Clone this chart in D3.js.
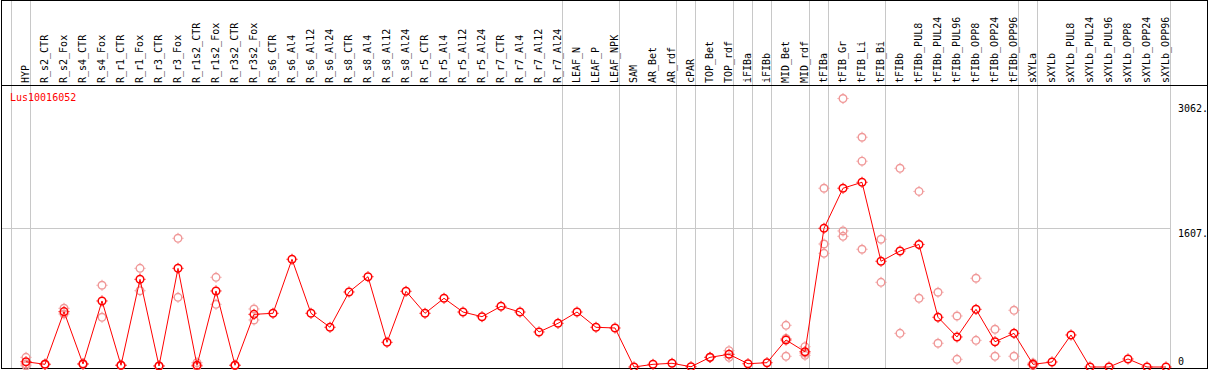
<!DOCTYPE html>
<html>
<head>
<meta charset="utf-8">
<script src="https://cdn.jsdelivr.net/npm/d3@7"></script>
<style>
  body { margin: 0; background: #fff; }
  text { font-family: "DejaVu Sans Mono", monospace; font-size: 10px; }
</style>
</head>
<body>
<div id="chart"></div>
<script>
// sample names along the top
const samples = ["HYP", "R_s2_CTR", "R_s2_Fox", "R_s4_CTR", "R_s4_Fox", "R_r1_CTR", "R_r1_Fox",
  "R_r3_CTR", "R_r3_Fox", "R_r1s2_CTR", "R_r1s2_Fox", "R_r3s2_CTR", "R_r3s2_Fox",
  "R_s6_CTR", "R_s6_Al4", "R_s6_Al12", "R_s6_Al24", "R_s8_CTR", "R_s8_Al4", "R_s8_Al12", "R_s8_Al24",
  "R_r5_CTR", "R_r5_Al4", "R_r5_Al12", "R_r5_Al24", "R_r7_CTR", "R_r7_Al4", "R_r7_Al12", "R_r7_Al24",
  "LEAF_N", "LEAF_P", "LEAF_NPK", "SAM", "AR_Bet", "AR_rdf", "cPAR", "TOP_Bet", "TOP_rdf",
  "iFIBa", "iFIBb", "MID_Bet", "MID_rdf", "tFIBa", "tFIB_Gr", "tFIB_Li", "tFIB_Bi",
  "tFIBb", "tFIBb_PUL8", "tFIBb_PUL24", "tFIBb_PUL96", "tFIBb_OPP8", "tFIBb_OPP24", "tFIBb_OPP96",
  "sXYLa", "sXYLb", "sXYLb_PUL8", "sXYLb_PUL24", "sXYLb_PUL96", "sXYLb_OPP8", "sXYLb_OPP24", "sXYLb_OPP96"];

// mean expression per sample
const means = [61, 31, 641, 35, 765, 20, 1016, 12, 1143, 20, 881, 20, 610,
  622, 1248, 622, 460, 869, 1046, 286, 877,
  622, 796, 637, 583, 703, 637, 406, 506,
  637, 460, 452, 0, 31, 43, 3, 112, 147,
  38, 50, 313, 177, 1607, 2071, 2140, 1225,
  1344, 1420, 576, 348, 668, 293, 390,
  31, 58, 371, 0, 0, 93, 0, 0];

// replicate values per sample (empty when only one)
const replicates = [[112, 35, 15], [35, 25], [680, 614], [40, 30], [947, 576], [22, 18], [1143, 884],
  [14, 10], [1491, 807], [50, 5], [1039, 726], [22, 18], [672, 545],
  [], [], [], [], [], [], [], [],
  [], [], [], [], [], [], [], [],
  [], [], [], [], [], [], [], [112, 110], [189, 112],
  [], [], [483, 124, 330], [235, 135, 160], [2071, 1425, 1317], [3110, 1576, 1514], [2662, 2384, 1364], [1480, 981],
  [2302, 390], [2034, 796], [866, 275], [591, 89], [1028, 309], [437, 124], [657, 124],
  [45, 17], [], [], [], [], [], [], []];

// group separators: drawn after these samples
const groupEnds = ["HYP", "R_r7_Al24", "LEAF_NPK", "AR_rdf", "cPAR", "TOP_rdf", "iFIBa", "iFIBb",
  "MID_rdf", "tFIBa", "tFIB_Bi", "tFIBb_OPP96", "sXYLa", "sXYLb_OPP96"];

const yTicks = [3062, 1607, 0];
const geneName = "Lus10016052";

const width = 1209, height = 370;
const headerBottom = 85, plotBottom = 368.5, plotRight = 1170;

const svg = d3.select("#chart").append("svg")
  .attr("width", width).attr("height", height);

const x = d3.scalePoint().domain(samples).range([26, 1166]);
const step = x.step();
const y = d3.scaleLinear().domain([0, 3062]).range([367, 102.7]);

// vertical group lines
const sepX = [x(samples[0]) - step + 4.5].concat(groupEnds.map(s => x(s) + 4.5));
svg.selectAll(".sep").data(sepX).enter().append("line")
  .attr("x1", d => Math.round(d - 0.5) + 0.5).attr("x2", d => Math.round(d - 0.5) + 0.5)
  .attr("y1", 0).attr("y2", plotBottom)
  .attr("stroke", "#c8c8c8").attr("stroke-width", 1);

// horizontal grid at middle tick
svg.append("line")
  .attr("x1", 1).attr("x2", plotRight)
  .attr("y1", Math.round(y(1607)) + 0.5).attr("y2", Math.round(y(1607)) + 0.5)
  .attr("stroke", "#c8c8c8");

// frame
svg.append("rect").attr("x", 1.5).attr("y", 0.5).attr("width", 1206).attr("height", plotBottom - 0.5)
  .attr("fill", "none").attr("stroke", "#000");
svg.append("line").attr("x1", 1).attr("x2", 1208)
  .attr("y1", headerBottom + 0.5).attr("y2", headerBottom + 0.5).attr("stroke", "#000");

// sample labels, reading upward from just above the header line
svg.selectAll(".lab").data(samples).enter().append("text")
  .attr("transform", d => `translate(${x(d) + 3},83) rotate(-90)`)
  .attr("text-anchor", "start")
  .text(d => d);

// y labels
svg.selectAll(".ylab").data(yTicks).enter().append("text")
  .attr("x", 1178)
  .attr("y", d => d === 0 ? 365 : y(d) + 9)
  .text(d => d === 0 ? "0" : d + ".");

svg.append("text").attr("x", 10).attr("y", 101).attr("fill", "red").text(geneName);

// marker: circle with small ticks
function marker(g, color, sw) {
  g.append("circle").attr("r", 3.8).attr("fill", "none").attr("stroke", color).attr("stroke-width", sw);
  g.append("path").attr("d", "M0,-5.5V-4.3M0,4.3V5.5M-5.5,0H-4.3M4.3,0H5.5")
    .attr("stroke", color).attr("stroke-width", 1);
}

// replicates
const reps = [];
samples.forEach((s, i) => replicates[i].forEach(v => reps.push({ s, v })));
svg.selectAll(".rep").data(reps).enter().append("g")
  .attr("transform", d => `translate(${x(d.s)},${y(d.v)})`)
  .each(function () { marker(d3.select(this), "#f09898", 1.4); });

// mean line
const line = d3.line().x((d, i) => x(samples[i])).y(d => y(d));
svg.append("path").datum(means).attr("d", line)
  .attr("fill", "none").attr("stroke", "red").attr("stroke-width", 1);

svg.selectAll(".mean").data(means).enter().append("g")
  .attr("transform", (d, i) => `translate(${x(samples[i])},${y(d)})`)
  .each(function () { marker(d3.select(this), "red", 1.5); });
</script>
</body>
</html>
